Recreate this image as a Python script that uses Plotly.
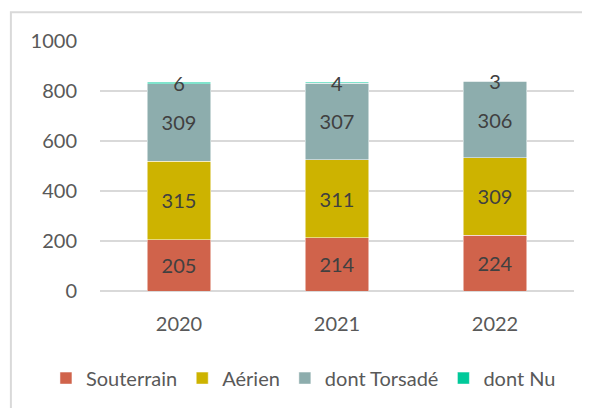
import plotly.graph_objects as go

# Années et séries
annees = ["2020", "2021", "2022"]
souterrain = [205, 214, 224]
aerien = [315, 311, 309]
torsade = [309, 307, 306]
nu = [6, 4, 3]

series = [
    ("Souterrain", souterrain, "#D0634B"),
    ("Aérien", aerien, "#CDB300"),
    ("dont Torsadé", torsade, "#8DADAD"),
    ("dont Nu", nu, "#00C99A"),
]

font_family = "Lato, 'Open Sans', sans-serif"
label_color = "#404040"
axis_color = "#595959"

fig = go.Figure()
for name, vals, color in series:
    fig.add_trace(go.Bar(
        x=annees,
        y=vals,
        name=name,
        marker=dict(color=color, line=dict(color="white", width=0.5)),
        text=vals,
        textposition="inside",
        insidetextanchor="middle",
        constraintext="none",
        textangle=0,
        textfont=dict(size=20, color=label_color, family=font_family),
        width=0.4,
    ))

# cadre gris du graphique
fig.add_shape(type="rect", xref="paper", yref="paper",
              x0=-0.188, y0=-0.6, x1=1.2, y1=1.1155,
              line=dict(color="#D9D9D9", width=2), layer="below")

# la page html a une marge de 8px : figure réduite d'autant
fig.update_layout(
    width=582, height=400,
    barmode="stack",
    plot_bgcolor="white", paper_bgcolor="white",
    margin=dict(l=92, r=16, t=33, b=116),
    font=dict(family=font_family, size=20, color=axis_color),
    showlegend=True,
    legend=dict(orientation="h", x=-0.114, xanchor="left", y=-0.343, yanchor="middle",
                font=dict(size=20, color=axis_color), itemwidth=30,
                traceorder="normal"),
    xaxis=dict(showgrid=False, showline=False, ticks="", tickfont=dict(size=20),
               ticklabelstandoff=19),
    yaxis=dict(range=[0, 1000], dtick=200, showgrid=True, gridcolor="#D9D9D9", gridwidth=1.5,
               zeroline=True, zerolinecolor="#D9D9D9", zerolinewidth=1.5,
               showline=False, ticks="", tickfont=dict(size=20), ticklabelstandoff=22),
)

fig.write_html("out.html")
